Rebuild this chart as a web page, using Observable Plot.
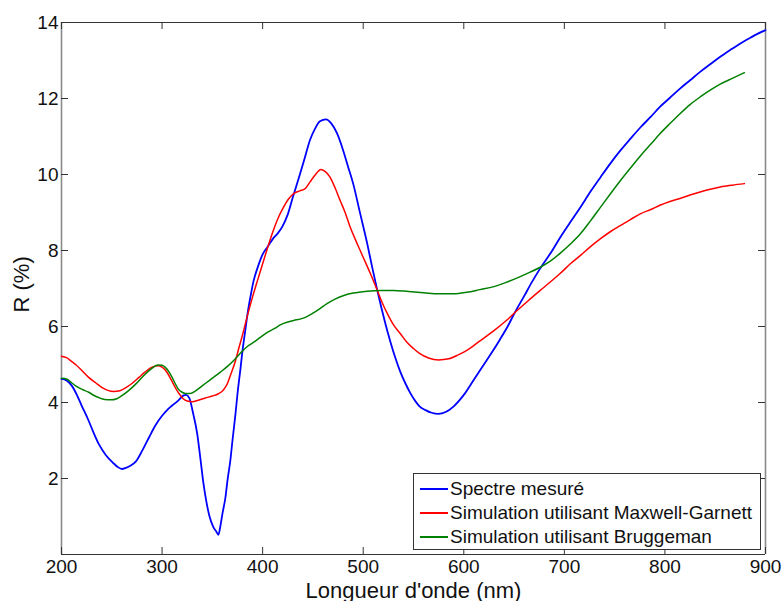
<!DOCTYPE html>
<html>
<head>
<meta charset="utf-8">
<script src="https://cdn.jsdelivr.net/npm/d3@7"></script>
<script src="https://cdn.jsdelivr.net/npm/@observablehq/plot@0.6"></script>
<style>
  body { margin: 0; background: #fff; }
  #wrap { position: relative; width: 783px; height: 601px; font-family: "Liberation Sans", Arial, sans-serif; }
  #legend { position: absolute; left: 413px; top: 473px; width: 348px; height: 77px; border: 1px solid #333; background: #fff; box-sizing: border-box; }
  .row { position: absolute; left: 0; height: 24px; display: flex; align-items: center; font-size: 19px; color: #111; white-space: nowrap; }
  .sw { display: block; width: 28px; height: 2px; margin-left: 6px; margin-right: 2px; }
</style>
</head>
<body>
<div id="wrap"></div>
<script>
// ---- data ----
const seriesNames = ["Spectre mesuré", "Simulation utilisant Maxwell-Garnett", "Simulation utilisant Bruggeman"];
const seriesColors = ["#0000ff", "#ff0000", "#008000"];

const measX = [200,205,210,214,220,227,232,237,244,251,256,260,264,268,274,280,287,293,300,305,310,316,321,324,327,331,335,338,341,344,347,351,354,356,358,360,363,365,368,370,373,375,378,380,383,385,388,391,395,400,405,410,415,420,425,430,437,442,447,452,457,463,468,474,480,485,490,497,504,509,514,518,522,527,532,537,542,547,552,556,562,568,575,582,590,600,610,620,628,636,644,651,660,668,676,688,696,706,716,726,736,746,756,766,776,786,795,805,815,825,835,845,855,865,875,885,892,900];
const measR = [4.62,4.58,4.45,4.27,3.92,3.52,3.2,2.91,2.62,2.42,2.3,2.25,2.28,2.33,2.45,2.72,3.08,3.38,3.65,3.8,3.92,4.05,4.18,4.2,4.12,3.7,3.17,2.55,1.9,1.4,1.02,0.72,0.6,0.52,0.75,1.07,1.5,1.94,2.5,3.0,3.7,4.23,4.9,5.37,5.95,6.34,6.8,7.2,7.55,7.9,8.1,8.3,8.45,8.65,8.95,9.4,10.0,10.45,10.9,11.2,11.4,11.45,11.35,11.08,10.64,10.2,9.76,8.97,8.18,7.55,6.95,6.5,6.08,5.6,5.17,4.8,4.5,4.24,4.03,3.9,3.8,3.73,3.7,3.75,3.9,4.2,4.6,5.0,5.32,5.66,6.02,6.38,6.8,7.18,7.53,8.0,8.35,8.75,9.14,9.55,9.93,10.3,10.64,10.95,11.25,11.52,11.78,12.02,12.26,12.48,12.7,12.9,13.1,13.28,13.45,13.6,13.7,13.8];

const mgX = [200,205,210,214,220,227,234,240,246,252,258,264,270,277,283,290,296,300,305,309,313,317,321,325,330,336,343,350,356,361,365,368,373,376,380,385,390,395,400,405,410,415,420,425,430,437,442,447,452,458,462,467,472,477,482,487,492,497,502,507,514,519,524,530,537,543,550,556,565,575,585,595,603,615,630,642,653,665,676,686,696,706,716,726,736,746,756,766,776,786,795,805,815,825,835,845,855,867,879];
const mgR = [5.22,5.18,5.08,5.0,4.85,4.66,4.52,4.4,4.32,4.29,4.31,4.39,4.5,4.66,4.8,4.93,4.97,4.93,4.79,4.6,4.4,4.23,4.1,4.04,4.02,4.06,4.12,4.17,4.23,4.33,4.5,4.72,5.1,5.4,5.78,6.3,6.78,7.22,7.65,8.08,8.48,8.83,9.1,9.33,9.48,9.57,9.62,9.8,9.98,10.13,10.08,9.93,9.65,9.32,9.0,8.62,8.3,8.0,7.7,7.4,6.95,6.62,6.34,6.05,5.81,5.6,5.42,5.29,5.17,5.12,5.15,5.26,5.37,5.6,5.89,6.15,6.42,6.7,6.95,7.17,7.4,7.65,7.87,8.1,8.31,8.5,8.66,8.82,8.97,9.08,9.19,9.29,9.37,9.46,9.54,9.61,9.67,9.72,9.76];

const brX = [200,205,210,214,220,227,232,237,243,249,255,260,267,274,280,287,292,296,300,303,307,310,313,316,320,323,328,333,338,343,350,358,365,371,378,385,392,398,405,412,418,425,431,438,444,450,457,464,472,480,490,504,517,530,545,560,575,590,603,616,630,643,655,666,676,686,696,706,716,726,736,746,756,766,776,786,795,805,815,825,835,845,855,867,879];
const brR = [4.64,4.62,4.52,4.44,4.35,4.27,4.19,4.13,4.08,4.07,4.1,4.18,4.32,4.49,4.66,4.84,4.94,4.99,4.98,4.93,4.8,4.66,4.5,4.36,4.27,4.24,4.24,4.3,4.4,4.5,4.64,4.8,4.95,5.1,5.3,5.48,5.6,5.72,5.85,5.95,6.05,6.12,6.16,6.2,6.26,6.35,6.47,6.6,6.72,6.81,6.88,6.93,6.95,6.95,6.92,6.89,6.86,6.86,6.9,6.97,7.05,7.17,7.3,7.43,7.56,7.72,7.93,8.17,8.44,8.78,9.14,9.5,9.85,10.18,10.5,10.8,11.07,11.34,11.6,11.84,12.04,12.22,12.38,12.53,12.68];

const xTicks = [200, 300, 400, 500, 600, 700, 800, 900];
const yTicks = [2, 4, 6, 8, 10, 12, 14];
const xLabel = "Longueur d'onde (nm)";
const yLabel = "R (%)";

// ---- build ----
const toRows = (xs, ys) => xs.map((x, i) => ({x, y: ys[i]}));
const series = [toRows(measX, measR), toRows(mgX, mgR), toRows(brX, brR)];

const W = 783, H = 601, mL = 61, mR = 18, mT = 22, mB = 47;
const pw = W - mL - mR, ph = H - mT - mB;
const tk = 7;

const chart = Plot.plot({
  width: W, height: H,
  marginLeft: mL, marginRight: mR, marginTop: mT, marginBottom: mB,
  style: {fontFamily: "'Liberation Sans', Arial, sans-serif", fontSize: "19px", color: "#111", background: "#fff", overflow: "visible"},
  x: {domain: [200, 900]},
  y: {domain: [0, 14]},
  marks: [
    Plot.ruleY([0, 14], {stroke: "#333", strokeWidth: 1}),
    Plot.ruleX([200, 900], {stroke: "#8a8a8a", strokeWidth: 1.6}),
    Plot.tickX(xTicks, {x: d => d, insetTop: ph - tk, stroke: "#333"}),
    Plot.tickX(xTicks, {x: d => d, insetBottom: ph - tk, stroke: "#333"}),
    Plot.tickY(yTicks, {y: d => d, insetRight: pw - tk, stroke: "#333"}),
    Plot.tickY(yTicks, {y: d => d, insetLeft: pw - tk, stroke: "#333"}),
    ...series.map((s, i) => Plot.line(s, {x: "x", y: "y", stroke: seriesColors[i], strokeWidth: i === 0 ? 1.8 : 1.5, curve: "monotone-x"})),
    Plot.axisX(xTicks, {tickSize: 0, tickPadding: 5, fontSize: 19, label: null}),
    Plot.axisY(yTicks, {tickSize: 0, tickPadding: 3, fontSize: 19, label: null}),
    Plot.text([xLabel], {text: d => d, frameAnchor: "bottom", dy: 43, fontSize: 22}),
    Plot.text([yLabel], {text: d => d, frameAnchor: "left", dx: -40, dy: 24, rotate: -90, fontSize: 22})
  ]
});

const wrap = document.getElementById("wrap");
wrap.appendChild(chart);

const legend = document.createElement("div");
legend.id = "legend";
seriesNames.forEach((name, i) => {
  const row = document.createElement("div");
  row.className = "row";
  row.style.top = (3.3 + i * 24) + "px";
  const sw = document.createElement("span");
  sw.className = "sw";
  sw.style.backgroundColor = seriesColors[i];
  const t = document.createElement("span");
  t.textContent = name;
  row.appendChild(sw);
  row.appendChild(t);
  legend.appendChild(row);
});
wrap.appendChild(legend);
</script>
</body>
</html>
